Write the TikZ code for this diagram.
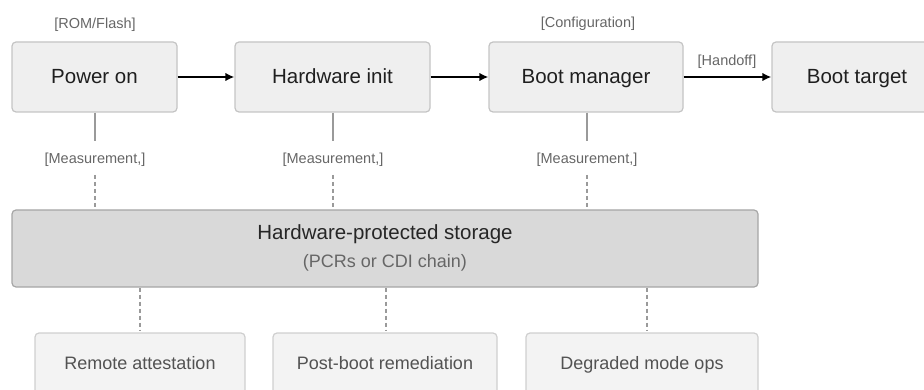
\documentclass[tikz,border=0pt]{standalone}
\usepackage{fontspec}
\setmainfont{Liberation Sans}
\usetikzlibrary{arrows.meta,calc}
\definecolor{topfill}{HTML}{EFEFEF}
\definecolor{topdraw}{HTML}{C4C4C4}
\definecolor{stfill}{HTML}{D9D9D9}
\definecolor{stdraw}{HTML}{A6A6A6}
\definecolor{botfill}{HTML}{F3F3F3}
\definecolor{botdraw}{HTML}{CFCFCF}
\definecolor{lblc}{HTML}{666666}
\definecolor{linec}{HTML}{9A9A9A}
\tikzset{
  topbox/.style={draw=topdraw, fill=topfill, line width=1.2pt, rounded corners=4pt,
    minimum height=70pt, inner sep=0pt, text=black!88,
    text height=14.7pt, text depth=2pt,
    font=\fontsize{20.5}{24}\selectfont},
  stbox/.style={draw=stdraw, fill=stfill, line width=1.2pt, rounded corners=4pt,
    minimum width=746pt, minimum height=77pt, inner sep=0pt},
  botbox/.style={draw=botdraw, fill=botfill, line width=1.2pt, rounded corners=4pt,
    minimum height=64pt, inner sep=0pt},
  bottxt/.style={text=black!68, text height=12.9pt, text depth=0pt, inner sep=0pt, font=\fontsize{18}{22}\selectfont},
  lbl/.style={text=lblc, inner sep=1pt, text height=10.4pt, text depth=0pt, font=\fontsize{14.5}{17}\selectfont},
  flow/.style={line width=2.5pt, black, -{Latex[length=9pt,width=8.5pt]}},
  solidg/.style={line width=1.2pt, draw=linec},
  dashg/.style={line width=1.2pt, draw=linec, dash pattern=on 4pt off 3pt},
}
\begin{document}
\begin{tikzpicture}[x=1pt,y=-1pt]
\useasboundingbox (0,0) rectangle (924,390);
\clip (0,0) rectangle (924,390);
% top row
\node[topbox, minimum width=165pt] (pwr) at (94.5,77) {Power on};
\node[topbox, minimum width=195pt] (hwi) at (332.5,77) {Hardware init};
\node[topbox, minimum width=194pt] (bm) at (586,77) {Boot manager};
\node[topbox, minimum width=170pt] (bt) at (857,77) {Boot target};
\node[lbl] (rom) at (95,23) {[ROM/Flash]};
\node[lbl] (cfg) at (588,22) {[Configuration]};
\draw[flow] (pwr.east) -- (hwi.west);
\draw[flow] (hwi.east) -- (bm.west);
\draw[flow] (bm.east) -- (bt.west);
\node[lbl] (hand) at (727,60) {[Handoff]};
% storage
\node[stbox] (st) at (385,248.5) {};
\node[text=black!85, text height=14.7pt, text depth=0pt, font=\fontsize{20.5}{24}\selectfont] (stt) at (385,232.5) {Hardware-protected storage};
\node[text=black!60, text height=12.9pt, text depth=0pt, font=\fontsize{18}{22}\selectfont] (sts) at (385,261.5) {(PCRs or CDI chain)};
% measurements
\foreach \n/\x in {pwr/95, hwi/333, bm/587} {
  \coordinate (\n-a) at (\x,141);
  \node[lbl] (\n-m) at (\x,158) {[Measurement,]};
  \coordinate (\n-b) at (\x,175);
  \draw[solidg] (\n.south -| \n-a) -- (\n-a);
  \draw[dashg] (\n-b) -- (\n-b |- st.north);
}
% bottom boxes
\node[botbox, minimum width=210pt] (ra) at (140,365) {};
\node[botbox, minimum width=224pt] (pb) at (385,365) {};
\node[botbox, minimum width=232pt] (dm) at (642,365) {};
\node[bottxt] (rat) at (140,363.5) {Remote attestation};
\node[bottxt] (pbt) at (385,363.5) {Post-boot remediation};
\node[bottxt] (dmt) at (642,363.5) {Degraded mode ops};
\coordinate (c1) at (140,330);
\coordinate (c2) at (386,330);
\coordinate (c3) at (647,330);
\draw[dashg] (c1 |- st.south) -- (c1);
\draw[dashg] (c2 |- st.south) -- (c2);
\draw[dashg] (c3 |- st.south) -- (c3);
\end{tikzpicture}
\end{document}
